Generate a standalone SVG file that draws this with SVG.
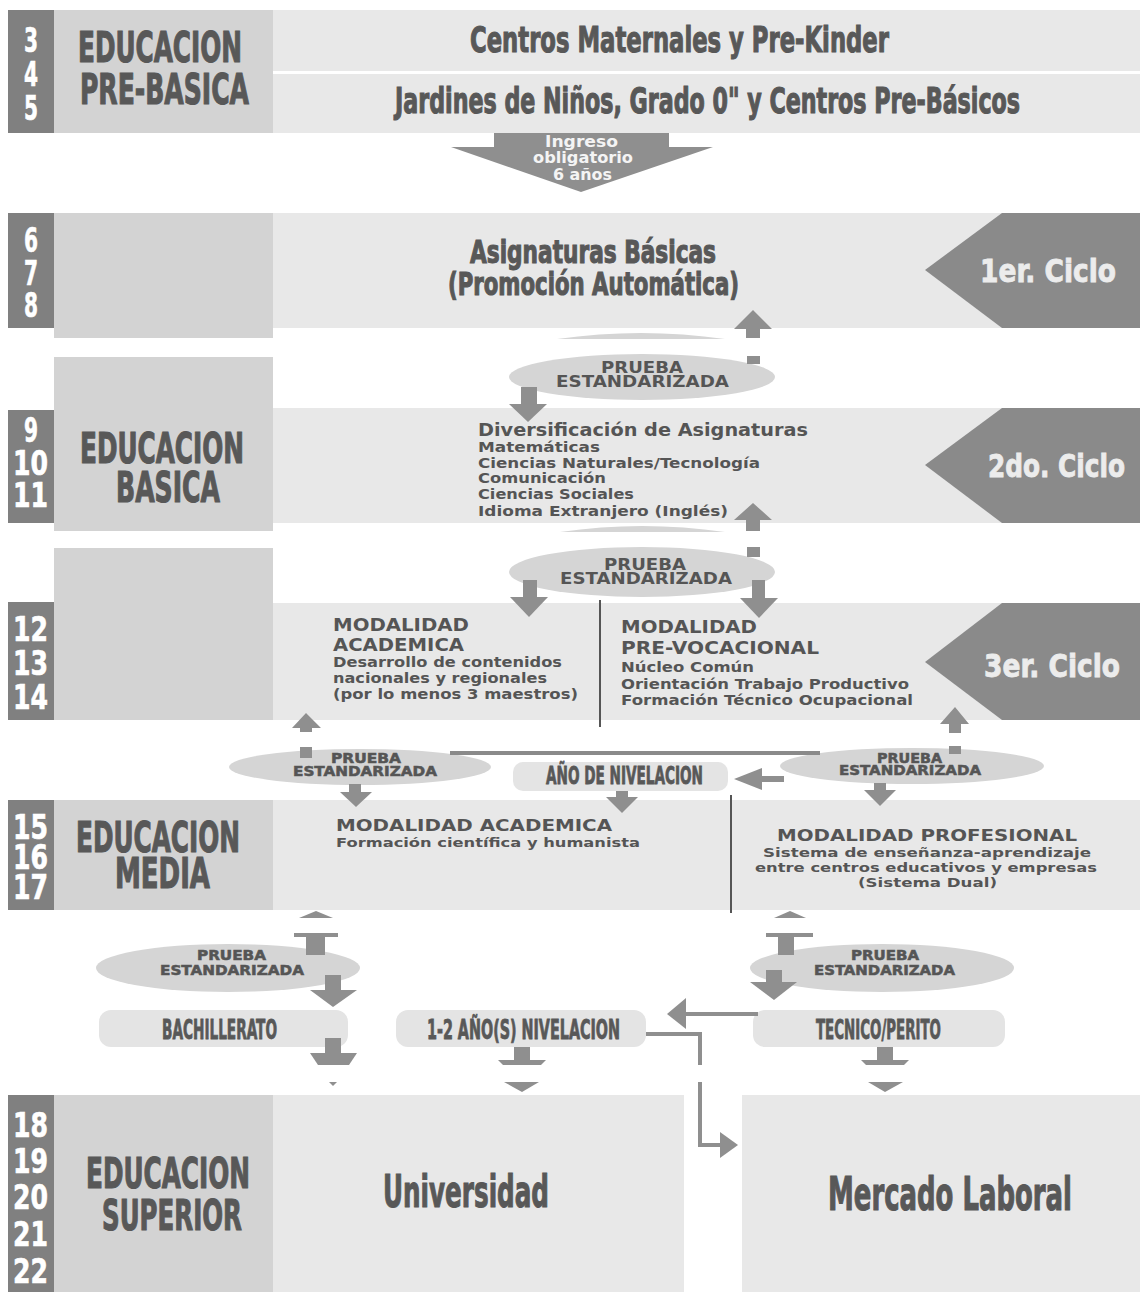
<svg xmlns="http://www.w3.org/2000/svg" width="1140" height="1292" viewBox="0 0 1140 1292">
<style>
  .dk{fill:#808080}
  .md{fill:#d3d3d3}
  .lt{fill:#e8e8e8}
  .cy{fill:#8a8a8a}
  .el{fill:#d5d5d5}
  .bx{fill:#e4e4e4}
  .ar{fill:#8f8f8f}
  .ln{fill:none;stroke:#8f8f8f;stroke-width:4}
  .dv{stroke:#555;stroke-width:2}
  .hd{font-family:"Liberation Sans Narrow","DejaVu Sans Condensed","DejaVu Sans",sans-serif;font-weight:bold;fill:#585858;stroke:#585858;stroke-width:1.1}
  .hs{font-family:"Liberation Sans Narrow","DejaVu Sans Condensed","DejaVu Sans",sans-serif;font-weight:bold;fill:#555;stroke:#555;stroke-width:0.5;font-size:14px}
  .num{font-family:"Liberation Sans Narrow","DejaVu Sans Condensed","DejaVu Sans",sans-serif;font-weight:bold;fill:#fff;font-size:33px;stroke:#fff;stroke-width:0.6}
  .cyt{font-family:"Liberation Sans Narrow","DejaVu Sans Condensed","DejaVu Sans",sans-serif;font-weight:bold;fill:#ececec;stroke:#ececec;stroke-width:0.8;font-size:32px}
  .ing{font-family:"Liberation Sans Narrow","DejaVu Sans Condensed","DejaVu Sans",sans-serif;font-weight:bold;fill:#f4f4f4;font-size:15px}
  .vb{font-family:"DejaVu Sans",Verdana,sans-serif;font-weight:bold;fill:#555}
</style>

<!-- Educación pre-básica -->
<g id="pre-basica">
  <rect class="dk" x="8" y="10" width="46" height="123"/>
  <rect class="md" x="54" y="10" width="219" height="123"/>
  <text class="num" transform="scale(0.68,1)"><tspan x="35.29" y="52" textLength="20.59" lengthAdjust="spacingAndGlyphs">3</tspan><tspan x="35.29" y="86" textLength="20.59" lengthAdjust="spacingAndGlyphs">4</tspan><tspan x="35.29" y="120" textLength="20.59" lengthAdjust="spacingAndGlyphs">5</tspan></text>
  <text class="hd" font-size="42" transform="scale(0.66,1)"><tspan x="118.18" y="62" textLength="248.48" lengthAdjust="spacingAndGlyphs">EDUCACION</tspan><tspan x="121.21" y="104" textLength="256.06" lengthAdjust="spacingAndGlyphs">PRE-BASICA</tspan></text>
</g>
<g id="centros-maternales">
  <rect class="lt" x="273" y="10" width="867" height="61"/>
  <text class="hd" font-size="36" transform="scale(0.65,1)" x="723.08" y="52" textLength="644.62" lengthAdjust="spacingAndGlyphs">Centros Maternales y Pre-Kinder</text>
</g>
<g id="jardines">
  <rect class="lt" x="273" y="74" width="867" height="59"/>
  <text class="hd" font-size="35" transform="scale(0.64,1)" x="617.19" y="113" textLength="976.56" lengthAdjust="spacingAndGlyphs">Jardines de Niños, Grado 0" y Centros Pre-Básicos</text>
</g>

<!-- Primer ciclo -->
<g id="primer-ciclo">
  <rect class="dk" x="8" y="213" width="46" height="115"/>
  <rect class="md" x="54" y="213" width="219" height="125"/>
  <rect class="lt" x="273" y="213" width="867" height="115"/>
  <text class="num" transform="scale(0.68,1)"><tspan x="35.29" y="252" textLength="20.59" lengthAdjust="spacingAndGlyphs">6</tspan><tspan x="35.29" y="285" textLength="20.59" lengthAdjust="spacingAndGlyphs">7</tspan><tspan x="35.29" y="317" textLength="20.59" lengthAdjust="spacingAndGlyphs">8</tspan></text>
  <text class="hd" font-size="32" transform="scale(0.7,1)"><tspan x="671.43" y="263" textLength="351.43" lengthAdjust="spacingAndGlyphs">Asignaturas Básicas</tspan><tspan x="640" y="295" textLength="415.71" lengthAdjust="spacingAndGlyphs">(Promoción Automática)</tspan></text>
  <polygon class="cy" points="1002,213 1140,213 1140,328 1002,328 925,270"/>
  <text class="cyt" transform="scale(0.77,1)" x="1272.73" y="282" textLength="176.62" lengthAdjust="spacingAndGlyphs">1er. Ciclo</text>
</g>

<!-- Segundo ciclo -->
<g id="segundo-ciclo">
  <rect class="md" x="54" y="357" width="219" height="174"/>
  <rect class="dk" x="8" y="410" width="46" height="113"/>
  <rect class="lt" x="273" y="408" width="867" height="115"/>
  <text class="num" transform="scale(0.8,1)"><tspan x="30" y="442" textLength="17.5" lengthAdjust="spacingAndGlyphs">9</tspan><tspan x="16.25" y="475" textLength="43.75" lengthAdjust="spacingAndGlyphs">10</tspan><tspan x="16.25" y="507" textLength="43.75" lengthAdjust="spacingAndGlyphs">11</tspan></text>
  <text class="hd" font-size="42" transform="scale(0.66,1)"><tspan x="121.21" y="463" textLength="248.48" lengthAdjust="spacingAndGlyphs">EDUCACION</tspan><tspan x="175.76" y="502" textLength="157.58" lengthAdjust="spacingAndGlyphs">BASICA</tspan></text>
  <text class="vb" font-size="14"><tspan x="478" y="436" font-size="17" textLength="330" lengthAdjust="spacingAndGlyphs">Diversificación de Asignaturas</tspan><tspan x="478" y="452" textLength="122" lengthAdjust="spacingAndGlyphs">Matemáticas</tspan><tspan x="478" y="468" textLength="282" lengthAdjust="spacingAndGlyphs">Ciencias Naturales/Tecnología</tspan><tspan x="478" y="483" textLength="128" lengthAdjust="spacingAndGlyphs">Comunicación</tspan><tspan x="478" y="499" textLength="156" lengthAdjust="spacingAndGlyphs">Ciencias Sociales</tspan><tspan x="478" y="516" textLength="250" lengthAdjust="spacingAndGlyphs">Idioma Extranjero (Inglés)</tspan></text>
  <polygon class="cy" points="1002,408 1140,408 1140,523 1002,523 925,465"/>
  <text class="cyt" transform="scale(0.77,1)" x="1283.12" y="477" textLength="177.92" lengthAdjust="spacingAndGlyphs">2do. Ciclo</text>
</g>

<!-- Tercer ciclo -->
<g id="tercer-ciclo">
  <rect class="md" x="54" y="548" width="219" height="172"/>
  <rect class="dk" x="8" y="602" width="46" height="118"/>
  <rect class="lt" x="273" y="603" width="867" height="117"/>
  <text class="num" transform="scale(0.85,1)"><tspan x="15.29" y="641" textLength="41.18" lengthAdjust="spacingAndGlyphs">12</tspan><tspan x="15.29" y="675" textLength="41.18" lengthAdjust="spacingAndGlyphs">13</tspan><tspan x="15.29" y="709" textLength="41.18" lengthAdjust="spacingAndGlyphs">14</tspan></text>
  <text class="vb" font-size="14"><tspan x="333" y="631" font-size="18" textLength="136" lengthAdjust="spacingAndGlyphs">MODALIDAD</tspan><tspan x="333" y="651" font-size="18" textLength="131" lengthAdjust="spacingAndGlyphs">ACADEMICA</tspan><tspan x="333" y="667" textLength="229" lengthAdjust="spacingAndGlyphs">Desarrollo de contenidos</tspan><tspan x="333" y="683" textLength="214" lengthAdjust="spacingAndGlyphs">nacionales y regionales</tspan><tspan x="333" y="699" textLength="245" lengthAdjust="spacingAndGlyphs">(por lo menos 3 maestros)</tspan></text>
  <line class="dv" x1="600" y1="600" x2="600" y2="727"/>
  <text class="vb" font-size="14"><tspan x="621" y="633" font-size="18" textLength="136" lengthAdjust="spacingAndGlyphs">MODALIDAD</tspan><tspan x="621" y="654" font-size="18" textLength="198" lengthAdjust="spacingAndGlyphs">PRE-VOCACIONAL</tspan><tspan x="621" y="672" textLength="133" lengthAdjust="spacingAndGlyphs">Núcleo Común</tspan><tspan x="621" y="689" textLength="288" lengthAdjust="spacingAndGlyphs">Orientación Trabajo Productivo</tspan><tspan x="621" y="705" textLength="292" lengthAdjust="spacingAndGlyphs">Formación Técnico Ocupacional</tspan></text>
  <polygon class="cy" points="1002,603 1140,603 1140,720 1002,720 925,662"/>
  <text class="cyt" transform="scale(0.77,1)" x="1277.92" y="677" textLength="176.62" lengthAdjust="spacingAndGlyphs">3er. Ciclo</text>
</g>

<!-- Pruebas estandarizadas, básica -->
<g id="prueba-1">
  <path class="el" d="M557,339 Q641,327 725,339 Z"/>
  <ellipse class="el" cx="642" cy="377" rx="133" ry="23"/>
  <text class="vb" font-size="15"><tspan x="601" y="373" textLength="82" lengthAdjust="spacingAndGlyphs">PRUEBA</tspan><tspan x="556" y="387" textLength="173" lengthAdjust="spacingAndGlyphs">ESTANDARIZADA</tspan></text>
</g>
<g id="prueba-2">
  <path class="el" d="M560,532 Q642,520 725,532 Z"/>
  <ellipse class="el" cx="642" cy="572" rx="133" ry="25"/>
  <text class="vb" font-size="15"><tspan x="604" y="570" textLength="82" lengthAdjust="spacingAndGlyphs">PRUEBA</tspan><tspan x="560" y="584" textLength="172" lengthAdjust="spacingAndGlyphs">ESTANDARIZADA</tspan></text>
</g>

<!-- Pruebas y nivelación, paso a media -->
<g id="prueba-3">
  <ellipse class="el" cx="360" cy="767" rx="131" ry="18"/>
  <text class="hs"><tspan x="331" y="763" textLength="70" lengthAdjust="spacingAndGlyphs">PRUEBA</tspan><tspan x="293" y="776" textLength="144" lengthAdjust="spacingAndGlyphs">ESTANDARIZADA</tspan></text>
</g>
<g id="ano-nivelacion">
  <rect class="bx" x="513" y="762" width="215" height="29" rx="10"/>
  <text class="hd" font-size="24" transform="scale(0.64,1)" x="853.13" y="784" textLength="245.31" lengthAdjust="spacingAndGlyphs" style="stroke-width:0.8">AÑO DE NIVELACION</text>
</g>
<g id="prueba-4">
  <ellipse class="el" cx="912" cy="766" rx="132" ry="18"/>
  <text class="hs"><tspan x="877" y="763" textLength="65" lengthAdjust="spacingAndGlyphs">PRUEBA</tspan><tspan x="839" y="775" textLength="142" lengthAdjust="spacingAndGlyphs">ESTANDARIZADA</tspan></text>
</g>

<!-- Educación media -->
<g id="media">
  <rect class="dk" x="8" y="800" width="46" height="110"/>
  <rect class="md" x="54" y="800" width="219" height="110"/>
  <rect class="lt" x="273" y="800" width="867" height="110"/>
  <text class="num" transform="scale(0.85,1)"><tspan x="15.29" y="839" textLength="41.18" lengthAdjust="spacingAndGlyphs">15</tspan><tspan x="15.29" y="869" textLength="41.18" lengthAdjust="spacingAndGlyphs">16</tspan><tspan x="15.29" y="899" textLength="41.18" lengthAdjust="spacingAndGlyphs">17</tspan></text>
  <text class="hd" font-size="42" transform="scale(0.66,1)"><tspan x="115.15" y="852" textLength="248.48" lengthAdjust="spacingAndGlyphs">EDUCACION</tspan><tspan x="174.24" y="888" textLength="143.94" lengthAdjust="spacingAndGlyphs">MEDIA</tspan></text>
  <text class="vb" font-size="13"><tspan x="336" y="831" font-size="16" textLength="276" lengthAdjust="spacingAndGlyphs">MODALIDAD ACADEMICA</tspan><tspan x="336" y="847" textLength="304" lengthAdjust="spacingAndGlyphs">Formación científica y humanista</tspan></text>
  <line class="dv" x1="731" y1="795" x2="731" y2="913"/>
  <text class="vb" font-size="13"><tspan x="777" y="841" font-size="16" textLength="300" lengthAdjust="spacingAndGlyphs">MODALIDAD PROFESIONAL</tspan><tspan x="763" y="857" textLength="328" lengthAdjust="spacingAndGlyphs">Sistema de enseñanza-aprendizaje</tspan><tspan x="755" y="872" textLength="342" lengthAdjust="spacingAndGlyphs">entre centros educativos y empresas</tspan><tspan x="858" y="887" textLength="139" lengthAdjust="spacingAndGlyphs">(Sistema Dual)</tspan></text>
</g>

<!-- Salidas de media -->
<g id="prueba-5">
  <ellipse class="el" cx="228" cy="968" rx="132" ry="24"/>
  <text class="hs" font-size="15"><tspan x="197" y="960" textLength="69" lengthAdjust="spacingAndGlyphs">PRUEBA</tspan><tspan x="160" y="975" textLength="144" lengthAdjust="spacingAndGlyphs">ESTANDARIZADA</tspan></text>
</g>
<g id="prueba-6">
  <ellipse class="el" cx="882" cy="968" rx="132" ry="24"/>
  <text class="hs" font-size="15"><tspan x="851" y="960" textLength="68" lengthAdjust="spacingAndGlyphs">PRUEBA</tspan><tspan x="814" y="975" textLength="141" lengthAdjust="spacingAndGlyphs">ESTANDARIZADA</tspan></text>
</g>
<g id="bachillerato">
  <rect class="bx" x="99" y="1010" width="249" height="37" rx="12"/>
  <text class="hd" font-size="26" transform="scale(0.58,1)" x="279.31" y="1039" textLength="198.28" lengthAdjust="spacingAndGlyphs" style="stroke-width:0.8">BACHILLERATO</text>
</g>
<g id="nivelacion-1-2">
  <rect class="bx" x="396" y="1010" width="250" height="37" rx="12"/>
  <text class="hd" font-size="26" transform="scale(0.59,1)" x="723.73" y="1039" textLength="327.12" lengthAdjust="spacingAndGlyphs" style="stroke-width:0.8">1-2 AÑO(S) NIVELACION</text>
</g>
<g id="tecnico-perito">
  <rect class="bx" x="753" y="1010" width="252" height="37" rx="12"/>
  <text class="hd" font-size="26" transform="scale(0.57,1)" x="1431.58" y="1039" textLength="219.3" lengthAdjust="spacingAndGlyphs" style="stroke-width:0.8">TECNICO/PERITO</text>
</g>

<!-- Educación superior -->
<g id="superior">
  <rect class="dk" x="8" y="1095" width="46" height="197"/>
  <rect class="md" x="54" y="1095" width="219" height="197"/>
  <text class="num" transform="scale(0.85,1)"><tspan x="15.29" y="1137" textLength="41.18" lengthAdjust="spacingAndGlyphs">18</tspan><tspan x="15.29" y="1173" textLength="41.18" lengthAdjust="spacingAndGlyphs">19</tspan><tspan x="15.29" y="1209" textLength="41.18" lengthAdjust="spacingAndGlyphs">20</tspan><tspan x="15.29" y="1246" textLength="41.18" lengthAdjust="spacingAndGlyphs">21</tspan><tspan x="15.29" y="1283" textLength="41.18" lengthAdjust="spacingAndGlyphs">22</tspan></text>
  <text class="hd" font-size="42" transform="scale(0.66,1)"><tspan x="130.3" y="1188" textLength="248.48" lengthAdjust="spacingAndGlyphs">EDUCACION</tspan><tspan x="154.55" y="1230" textLength="212.12" lengthAdjust="spacingAndGlyphs">SUPERIOR</tspan></text>
</g>
<g id="universidad">
  <rect class="lt" x="273" y="1095" width="411" height="197"/>
  <text class="hd" font-size="45" transform="scale(0.58,1)" x="660.34" y="1207" textLength="286.21" lengthAdjust="spacingAndGlyphs">Universidad</text>
</g>
<g id="mercado-laboral">
  <rect class="lt" x="742" y="1095" width="398" height="197"/>
  <text class="hd" font-size="46" transform="scale(0.61,1)" x="1357.38" y="1210" textLength="400" lengthAdjust="spacingAndGlyphs">Mercado Laboral</text>
</g>

<!-- Flechas y líneas de paso -->
<g id="connectors">
  <!-- ingreso obligatorio -->
  <rect class="ar" x="494" y="133" width="175" height="14"/>
  <polygon class="ar" points="451,147 713,147 581,192"/>
  <text class="ing"><tspan x="545" y="147" textLength="73" lengthAdjust="spacingAndGlyphs">Ingreso</tspan><tspan x="533" y="163" textLength="100" lengthAdjust="spacingAndGlyphs">obligatorio</tspan><tspan x="553" y="180" textLength="59" lengthAdjust="spacingAndGlyphs">6 años</tspan></text>

  <!-- prueba 1 -->
  <polygon class="ar" points="753,310 772,329 760,329 760,338 746,338 746,329 734,329"/>
  <rect class="ar" x="747" y="356" width="13" height="8"/>
  <rect class="ar" x="521" y="387" width="16" height="17"/>
  <polygon class="ar" points="509,404 547,404 528,422"/>

  <!-- prueba 2 -->
  <polygon class="ar" points="753,503 772,520 760,520 760,531 746,531 746,520 734,520"/>
  <rect class="ar" x="747" y="547" width="13" height="10"/>
  <rect class="ar" x="523" y="580" width="14" height="17"/>
  <polygon class="ar" points="510,597 548,597 529,617"/>
  <rect class="ar" x="752" y="580" width="13" height="18"/>
  <polygon class="ar" points="740,598 778,598 759,618"/>

  <!-- prueba 3 / 4 y año de nivelación -->
  <polygon class="ar" points="306,713 321,728 312,728 312,732 300,732 300,728 292,728"/>
  <rect class="ar" x="300" y="747" width="12" height="11"/>
  <polygon class="ar" points="955,707 969,724 961,724 961,733 949,733 949,724 940,724"/>
  <rect class="ar" x="949" y="746" width="12" height="8"/>
  <line x1="450" y1="753" x2="820" y2="753" stroke="#8a8a8a" stroke-width="4"/>
  <rect class="ar" x="760" y="776" width="24" height="6"/>
  <polygon class="ar" points="734,779 762,768 762,790"/>
  <rect class="ar" x="349" y="784" width="12" height="8"/>
  <polygon class="ar" points="340,792 372,792 356,807"/>
  <rect class="ar" x="616" y="791" width="12" height="6"/>
  <polygon class="ar" points="606,797 638,797 622,813"/>
  <rect class="ar" x="874" y="783" width="12" height="7"/>
  <polygon class="ar" points="864,790 896,790 880,806"/>

  <!-- prueba 5 / 6 -->
  <polygon class="ar" points="316,911 333,918 299,918"/>
  <rect class="ar" x="294" y="933" width="44" height="4"/>
  <rect class="ar" x="306" y="937" width="19" height="18"/>
  <polygon class="ar" points="790,911 806,918 774,918"/>
  <rect class="ar" x="766" y="933" width="47" height="4"/>
  <rect class="ar" x="778" y="937" width="16" height="18"/>
  <rect class="ar" x="325" y="975" width="16" height="15"/>
  <polygon class="ar" points="310,990 357,990 333,1007"/>
  <rect class="ar" x="766" y="970" width="16" height="12"/>
  <polygon class="ar" points="750,982 797,982 774,1000"/>

  <!-- hacia educación superior -->
  <rect class="ar" x="325" y="1038" width="16" height="15"/>
  <polygon class="ar" points="310,1053 357,1053 349,1065 318,1065"/>
  <polygon class="ar" points="329,1082 337,1082 333,1086"/>
  <rect class="ar" x="514" y="1047" width="16" height="13"/>
  <polygon class="ar" points="498,1060 546,1060 541,1065 503,1065"/>
  <polygon class="ar" points="504,1082 539,1082 522,1092"/>
  <rect class="ar" x="877" y="1047" width="16" height="13"/>
  <polygon class="ar" points="861,1060 909,1060 904,1065 866,1065"/>
  <polygon class="ar" points="868,1082 903,1082 885,1092"/>

  <!-- técnico → nivelación, nivelación → mercado laboral -->
  <line class="ln" x1="758" y1="1014" x2="684" y2="1014"/>
  <polygon class="ar" points="667,1014 686,998 686,1029"/>
  <polyline class="ln" points="646,1034 700,1034 700,1065"/>
  <polyline class="ln" points="700,1082 700,1145 722,1145"/>
  <polygon class="ar" points="738,1145 720,1132 720,1158"/>
</g>
</svg>
